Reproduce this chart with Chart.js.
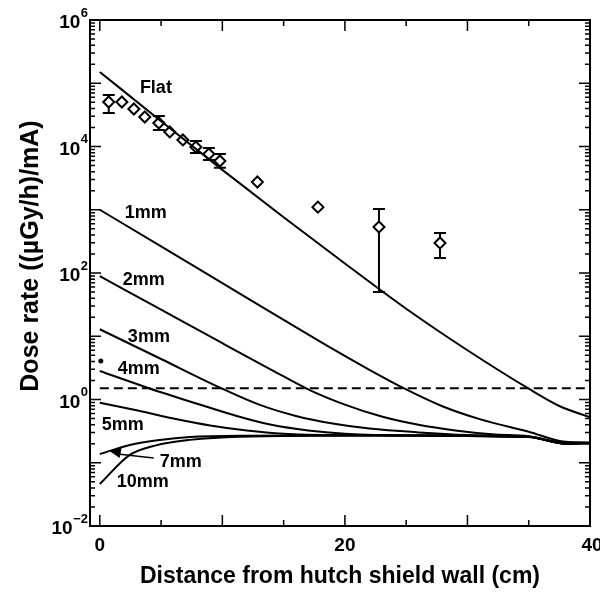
<!DOCTYPE html>
<html><head><meta charset="utf-8">
<script src="https://cdn.jsdelivr.net/npm/chart.js@4/dist/chart.umd.min.js"></script>
<style>html,body{margin:0;padding:0;background:#fff}</style>
</head><body>
<canvas id="c" width="600" height="592"></canvas>
<script>
// ---- data ----
const flatX = [0, 5, 10, 15, 20, 25, 30, 35, 37.5, 40];
const flatY = [1.51e5, 2.51e4, 4270, 760, 141, 27.2, 6.0, 1.48, 0.79, 0.525];
const mm1X = [0, 5, 10, 15, 19, 22, 25, 28, 31, 35, 38, 40];
const mm1Y = [1000, 263, 69.2, 18.2, 6.31, 2.95, 1.445, 0.776, 0.49, 0.309, 0.214, 0.209];
const mm2X = [0, 5, 10, 14, 17, 20, 23, 26, 29, 32, 35, 37.8, 40];
const mm2Y = [89, 26.3, 7.76, 2.95, 1.45, 0.83, 0.537, 0.398, 0.324, 0.282, 0.263, 0.209, 0.206];
const mm3X = [0, 5, 10, 13, 16, 19, 22, 26, 30, 35, 38, 40];
const mm3Y = [12.9, 4.37, 1.48, 0.83, 0.55, 0.417, 0.347, 0.302, 0.275, 0.257, 0.204, 0.204];
const mm4X = [0, 4, 8, 11, 14, 17, 20, 25, 35, 38, 40];
const mm4Y = [2.82, 1.51, 0.85, 0.562, 0.398, 0.324, 0.288, 0.269, 0.257, 0.202, 0.204];
const mm5X = [0, 3, 6, 9, 12, 15, 20, 25, 35, 38, 40];
const mm5Y = [0.89, 0.676, 0.501, 0.389, 0.324, 0.288, 0.272, 0.269, 0.255, 0.2, 0.205];
const mm7X = [0, 2.45, 4.9, 7.35, 11.4, 22.9, 35.1, 38, 40];
const mm7Y = [0.137, 0.191, 0.229, 0.255, 0.268, 0.272, 0.255, 0.2, 0.205];
const mm10X = [0, 2.45, 4.65, 7.35, 11.4, 22.9, 35.1, 38, 40];
const mm10Y = [0.046, 0.133, 0.19, 0.23, 0.258, 0.27, 0.255, 0.2, 0.205];
const limitX = [0, 40];
const limitY = [1.5, 1.5];
const expX = [0.73, 1.8, 2.78, 3.67, 4.82, 5.71, 6.78, 7.84, 8.9, 9.8, 12.86, 17.8, 22.78, 27.76];
const expY = [5.06e4, 5.06e4, 3.92e4, 2.93e4, 2.35e4, 1.70e4, 1.27e4, 9.8e3, 7.6e3, 5.9e3, 2.75e3, 1.10e3, 533, 298];
const expLo = [3.39e4, null, null, null, 1.82e4, null, null, 7.9e3, 6.1e3, 4.6e3, null, null, 50, 173];
const expHi = [6.5e4, null, null, null, 3.03e4, null, null, 1.22e4, 9.5e3, 7.6e3, null, null, 1030, 429];
const dotX = [0.08];
const dotY = [4.07];
const curveNames = ['Flat', '1mm', '2mm', '3mm', '4mm', '5mm', '7mm', '10mm'];
const nameX = [3.27, 2.04, 1.88, 2.29, 1.47, 0.16, 4.9, 1.39];
const nameY = [8.4e4, 890, 77, 9.7, 3.03, 0.395, 0.103, 0.0497];
const xTickLabels = [0, 20, 40];
const yTickExps = [-2, 0, 2, 4, 6];
const xTitle = 'Distance from hutch shield wall (cm)';
const yTitle = 'Dose rate ((\u00B5Gy/h)/mA)';

const pts = (xs, ys) => xs.map((v, i) => ({x: v, y: ys[i]}));
const curve = (xs, ys) => ({data: pts(xs, ys), showLine: true, borderColor: '#000', borderWidth: 2,
  pointRadius: 0, cubicInterpolationMode: 'monotone', fill: false});

const FONT = '"Liberation Sans", Arial, sans-serif';

const deco = {
  id: 'deco',
  beforeDatasetsDraw(chart) {
    const {ctx, scales: {x, y}} = chart;
    ctx.save();
    ctx.strokeStyle = '#000'; ctx.lineWidth = 2;
    for (let i = 0; i < expX.length; i++) {
      if (expLo[i] == null) continue;
      const px = x.getPixelForValue(expX[i]);
      const pt = y.getPixelForValue(expHi[i]), pb = y.getPixelForValue(expLo[i]);
      ctx.beginPath();
      ctx.moveTo(px, pt); ctx.lineTo(px, pb);
      ctx.moveTo(px - 6, pt); ctx.lineTo(px + 6, pt);
      ctx.moveTo(px - 6, pb); ctx.lineTo(px + 6, pb);
      ctx.stroke();
    }
    ctx.restore();
  },
  afterDraw(chart) {
    const {ctx, chartArea: a, scales: {x, y}} = chart;
    ctx.save();
    ctx.strokeStyle = '#000'; ctx.fillStyle = '#000';
    // pointer to 7mm
    {
      const tx = x.getPixelForValue(0.8), ty = y.getPixelForValue(0.153);
      const ex = x.getPixelForValue(4.4), ey = y.getPixelForValue(0.119);
      ctx.lineWidth = 1.5;
      ctx.beginPath(); ctx.moveTo(tx + 8, ty + 3); ctx.lineTo(ex, ey); ctx.stroke();
      ctx.beginPath(); ctx.moveTo(tx, ty); ctx.lineTo(tx + 12, ty - 3); ctx.lineTo(tx + 10, ty + 7); ctx.closePath(); ctx.fill();
    }
    // frame
    ctx.lineWidth = 2;
    ctx.strokeRect(a.left, a.top, a.right - a.left, a.bottom - a.top);
    ctx.lineWidth = 1.5;
    ctx.beginPath();
    for (let v = 0; v <= 40; v += 5) {
      const px = x.getPixelForValue(v);
      const len = v % 10 === 0 ? 11 : 6;
      ctx.moveTo(px, a.bottom); ctx.lineTo(px, a.bottom - len);
      ctx.moveTo(px, a.top); ctx.lineTo(px, a.top + len);
    }
    for (let e = -2; e <= 6; e++) {
      for (let m = 1; m <= 9; m++) {
        if (e === 6 && m > 1) break;
        const py = y.getPixelForValue(m * Math.pow(10, e));
        const len = m === 1 ? 11 : 5;
        ctx.moveTo(a.left, py); ctx.lineTo(a.left + len, py);
        ctx.moveTo(a.right, py); ctx.lineTo(a.right - len, py);
      }
    }
    ctx.stroke();
    // tick labels
    ctx.font = 'bold 19px ' + FONT;
    ctx.textAlign = 'center'; ctx.textBaseline = 'top';
    xTickLabels.forEach(v => ctx.fillText(String(v), x.getPixelForValue(v) + (v === 40 ? 2 : 0), a.bottom + 10));
    yTickExps.forEach(e => {
      const py = y.getPixelForValue(Math.pow(10, e));
      const es = e < 0 ? '\u2212' + (-e) : String(e);
      ctx.font = 'bold 13px ' + FONT;
      ctx.textAlign = 'right'; ctx.textBaseline = 'middle';
      const ew = ctx.measureText(es).width;
      ctx.fillText(es, 88, py - 7);
      ctx.font = 'bold 19px ' + FONT;
      ctx.fillText('10', 88 - ew - 0.5, py + 3);
    });
    // curve names
    ctx.font = 'bold 18px ' + FONT;
    ctx.textAlign = 'left'; ctx.textBaseline = 'middle';
    curveNames.forEach((n, i) => ctx.fillText(n, x.getPixelForValue(nameX[i]), y.getPixelForValue(nameY[i])));
    // axis titles
    ctx.font = 'bold 23px ' + FONT;
    ctx.textAlign = 'center'; ctx.textBaseline = 'middle';
    ctx.fillText(xTitle, 340, 577);
    ctx.font = 'bold 25px ' + FONT;
    ctx.translate(31, 256); ctx.rotate(-Math.PI / 2);
    ctx.fillText(yTitle, 0, 0);
    ctx.restore();
  }
};

new Chart(document.getElementById('c'), {
  type: 'scatter',
  data: {
    datasets: [
      curve(flatX, flatY), curve(mm1X, mm1Y), curve(mm2X, mm2Y), curve(mm3X, mm3Y),
      curve(mm4X, mm4Y), curve(mm5X, mm5Y), curve(mm7X, mm7Y), curve(mm10X, mm10Y),
      {data: pts(limitX, limitY), showLine: true, borderColor: '#000', borderWidth: 2, borderDash: [9, 5], pointRadius: 0},
      {data: pts(expX, expY), pointStyle: 'rectRot', pointRadius: 5.5, borderWidth: 2, borderColor: '#000', backgroundColor: '#fff'},
      {data: pts(dotX, dotY), pointStyle: 'circle', pointRadius: 2.5, borderWidth: 0, backgroundColor: '#000'}
    ]
  },
  options: {
    responsive: false, animation: false, devicePixelRatio: 1,
    layout: {padding: {left: 90, right: 10, top: 20, bottom: 66}},
    plugins: {legend: {display: false}, tooltip: {enabled: false}},
    scales: {
      x: {type: 'linear', min: -0.8, max: 40, display: false},
      y: {type: 'logarithmic', min: 0.01, max: 1e6, display: false}
    }
  },
  plugins: [deco]
});
</script>
</body></html>
